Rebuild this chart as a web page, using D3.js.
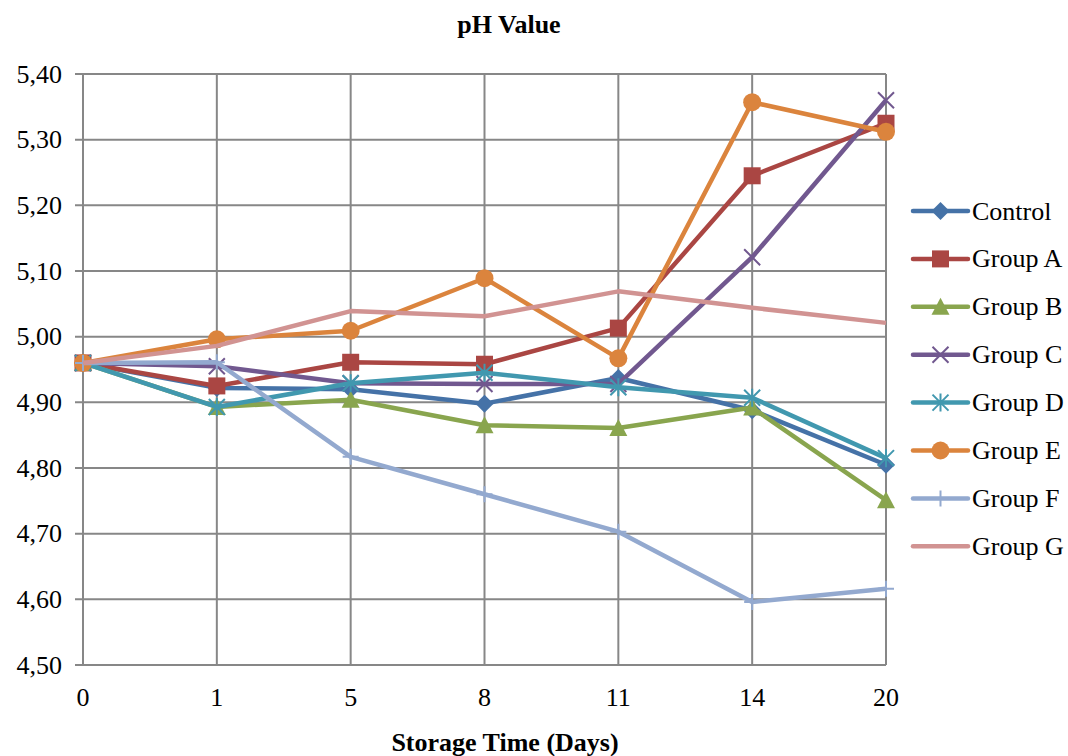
<!DOCTYPE html>
<html>
<head>
<meta charset="utf-8">
<script src="https://cdn.jsdelivr.net/npm/d3@7"></script>
<style>
  html, body { margin: 0; padding: 0; background: #fff; }
  svg { display: block; }
  text { font-family: "Liberation Serif", "Times New Roman", serif; fill: #000; }
</style>
</head>
<body>
<svg id="chart" width="1068" height="756"></svg>
<script>
const categories = ["0", "1", "5", "8", "11", "14", "20"];
const yTicks = [4.5, 4.6, 4.7, 4.8, 4.9, 5.0, 5.1, 5.2, 5.3, 5.4];

const control = [4.960, 4.922, 4.920, 4.898, 4.937, 4.888, 4.805];
const groupA  = [4.960, 4.925, 4.961, 4.958, 5.013, 5.245, 5.325];
const groupB  = [4.960, 4.893, 4.904, 4.865, 4.861, 4.892, 4.751];
const groupC  = [4.960, 4.955, 4.929, 4.928, 4.928, 5.121, 5.360];
const groupD  = [4.960, 4.893, 4.929, 4.945, 4.923, 4.907, 4.815];
const groupE  = [4.960, 4.996, 5.009, 5.089, 4.967, 5.357, 5.312];
const groupF  = [4.960, 4.961, 4.817, 4.760, 4.703, 4.596, 4.616];
const groupG  = [4.960, 4.986, 5.039, 5.031, 5.069, 5.044, 5.021];

const seriesNames = ["Control", "Group A", "Group B", "Group C", "Group D", "Group E", "Group F", "Group G"];
const seriesValues = [control, groupA, groupB, groupC, groupD, groupE, groupF, groupG];
const colors = ["#4572A7", "#AA4643", "#89A54E", "#71588F", "#4198AF", "#DB843D", "#93A9CF", "#D19392"];
const markers = ["diamond", "square", "triangle", "x", "star", "circle", "plus", "none"];

const svg = d3.select("#chart");
const pLeft = 83, pRight = 886, pTop = 74, pBottom = 665;

const x = d3.scalePoint().domain(categories).range([pLeft, pRight]);
const y = d3.scaleLinear().domain([4.5, 5.4]).range([pBottom, pTop]);
const fmt = v => d3.format(".2f")(v).replace(".", ",");

const grid = svg.append("g");
grid.selectAll("line.h").data(yTicks).enter().append("line")
  .attr("x1", pLeft - 8).attr("x2", pRight)
  .attr("y1", d => y(d)).attr("y2", d => y(d))
  .attr("stroke", "#878787").attr("stroke-width", 2);
grid.selectAll("line.v").data(categories).enter().append("line")
  .attr("x1", d => x(d)).attr("x2", d => x(d))
  .attr("y1", pTop).attr("y2", pBottom)
  .attr("stroke", "#878787").attr("stroke-width", 2);

svg.append("g").selectAll("text").data(yTicks).enter().append("text")
  .attr("x", 62).attr("y", d => y(d)).attr("dy", "0.33em")
  .attr("text-anchor", "end").attr("font-size", 26)
  .text(fmt);

svg.append("g").selectAll("text").data(categories).enter().append("text")
  .attr("x", d => x(d)).attr("y", 697).attr("dy", "0.33em")
  .attr("text-anchor", "middle").attr("font-size", 26)
  .text(d => d);

svg.append("text").attr("x", 509).attr("y", 33).attr("text-anchor", "middle")
  .attr("font-size", 26).attr("font-weight", "bold").text("pH Value");
svg.append("text").attr("x", 505).attr("y", 751).attr("text-anchor", "middle")
  .attr("font-size", 26).attr("font-weight", "bold").text("Storage Time (Days)");

function drawMarker(g, type, cx, cy, color) {
  if (type === "diamond") {
    g.append("path").attr("d", `M${cx},${cy-9}L${cx+9},${cy}L${cx},${cy+9}L${cx-9},${cy}Z`).attr("fill", color);
  } else if (type === "square") {
    g.append("rect").attr("x", cx - 8.5).attr("y", cy - 8.5).attr("width", 17).attr("height", 17).attr("fill", color);
  } else if (type === "triangle") {
    g.append("path").attr("d", `M${cx},${cy-9}L${cx+9},${cy+8}L${cx-9},${cy+8}Z`).attr("fill", color);
  } else if (type === "circle") {
    g.append("circle").attr("cx", cx).attr("cy", cy).attr("r", 9).attr("fill", color);
  } else if (type === "x") {
    const s = 8;
    g.append("path").attr("d", `M${cx-s},${cy-s}L${cx+s},${cy+s}M${cx-s},${cy+s}L${cx+s},${cy-s}`)
      .attr("stroke", color).attr("stroke-width", 2).attr("fill", "none");
  } else if (type === "star") {
    const s = 8;
    g.append("path").attr("d", `M${cx-s},${cy-s}L${cx+s},${cy+s}M${cx-s},${cy+s}L${cx+s},${cy-s}M${cx},${cy-s-1}L${cx},${cy+s+1}`)
      .attr("stroke", color).attr("stroke-width", 2).attr("fill", "none");
  } else if (type === "plus") {
    const s = 8;
    g.append("path").attr("d", `M${cx-s},${cy}L${cx+s},${cy}M${cx},${cy-s}L${cx},${cy+s}`)
      .attr("stroke", color).attr("stroke-width", 2).attr("fill", "none");
  }
}

const line = d3.line().x((d, i) => x(categories[i])).y(d => y(d));

seriesValues.forEach((vals, si) => {
  const g = svg.append("g");
  g.append("path").datum(vals).attr("d", line)
    .attr("fill", "none").attr("stroke", colors[si]).attr("stroke-width", 4.5)
    .attr("stroke-linejoin", "round");
  vals.forEach((v, i) => drawMarker(g, markers[si], x(categories[i]), y(v), colors[si]));
});

const legendY0 = 211, legendStep = 47.9;
seriesNames.forEach((name, i) => {
  const ly = legendY0 + i * legendStep;
  const g = svg.append("g");
  g.append("line").attr("x1", 913).attr("x2", 968).attr("y1", ly).attr("y2", ly)
    .attr("stroke", colors[i]).attr("stroke-width", 4.5).attr("stroke-linecap", "round");
  drawMarker(g, markers[i], 940.5, ly, colors[i]);
  g.append("text").attr("x", 972).attr("y", ly).attr("dy", "0.33em")
    .attr("font-size", 26).text(name);
});
</script>
</body>
</html>
